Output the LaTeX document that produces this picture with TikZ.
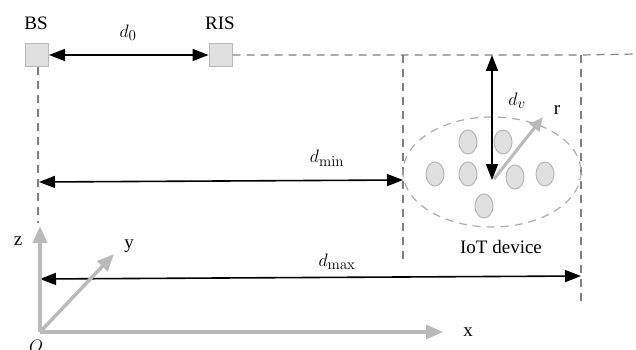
\documentclass[tikz,border=0pt]{standalone}
\usepackage{fix-cm}
\usepackage[no-math]{fontspec}
\setmainfont{Liberation Serif}
\DeclareMathSizes{19}{18}{15}{12}
\usetikzlibrary{arrows.meta,shapes.geometric}
\begin{document}
\begin{tikzpicture}[x=1pt,y=-1pt,
  every node/.style={font=\fontsize{19}{22}\selectfont, inner sep=0pt},
  dev/.style={ellipse, draw=black!28, fill=black!12, line width=1pt, minimum width=18pt, minimum height=24pt},
  ant/.style={rectangle, draw=black!28, fill=black!12, line width=1pt, minimum size=23pt},
  guide/.style={draw=black!50, dashed, dash pattern=on 8pt off 6pt, line width=1.2pt},
  meas/.style={draw=black, line width=1.6pt, {Triangle[length=16pt,width=12pt]}-{Triangle[length=16pt,width=12pt]}},
  axis/.style={draw=black!27, line width=3.5pt, -{Triangle[length=17pt,width=14pt]}}]
\useasboundingbox (0,0) rectangle (636,350);
% antennas
\node[ant] (bs) at (37,55) {};
\node[ant] (ris) at (220.5,55) {};
\node (bsl) at (36,23) {BS};
\node (risl) at (220,23) {RIS};
% guide lines
\coordinate (r1) at (403,55);
\coordinate (r2) at (581,55);
\coordinate (r3) at (636,54);
\coordinate (bsb) at (38,223);
\coordinate (r1b) at (403,260);
\coordinate (r2b) at (581,302);
\draw[guide] (ris.east) -- (r1) -- (r2) -- (r3);
\draw[guide] (bs.south -| bsb) -- (bsb);
\draw[guide] (r1) -- (r1b);
\draw[guide] (r2) -- (r2b);
% d0
\draw[meas] (bs.east) -- (ris.west);
\node (d0) at (128,33) {$d_0$};
% IoT area
\draw[draw=black!32, dashed, dash pattern=on 8pt off 6pt, line width=1.2pt] (492,172) ellipse [x radius=89, y radius=55];
\node[dev] (e1) at (468,142) {};
\node[dev] (e2) at (503,142) {};
\node[dev] (e3) at (435,174) {};
\node[dev] (e4) at (468,174) {};
\node[dev] (e5) at (515,177) {};
\node[dev] (e6) at (545,174) {};
\node[dev] (e7) at (484,206) {};
\node (iot) at (501,247) {IoT device};
% r arrow
\coordinate (rs) at (494,179);
\coordinate (re) at (543,117);
\draw[draw=black!27, line width=3pt, -{Triangle[length=14pt,width=12pt]}] (rs) -- (re);
\node (rl) at (557,110) {r};
% dv
\coordinate (dvt) at (492,55);
\coordinate (dvb) at (492,180);
\draw[meas] (dvt) -- (dvb);
\node (dv) at (517,101) {$d_v$};
% dmin
\coordinate (dmina) at (39,182);
\coordinate (dminb) at (403,180);
\draw[meas] (dmina) -- (dminb);
\node (dmin) at (327,158) {$d_{\min}$};
% dmax
\coordinate (dmaxa) at (40,279);
\coordinate (dmaxb) at (581,276);
\draw[meas] (dmaxa) -- (dmaxb);
\node (dmax) at (337,262) {$d_{\max}$};
% axes
\coordinate (O) at (40,332);
\coordinate (zt) at (40,226);
\coordinate (xt) at (443,332);
\coordinate (yt) at (114,254);
\draw[axis] (O) -- (zt);
\draw[axis] (O) -- (xt);
\draw[axis] (O) -- (yt);
\node (zl) at (18,241) {z};
\node (yl) at (129,246) {y};
\node (xl) at (468,332) {x};
\node (Ol) at (36,346) {$O$};
\end{tikzpicture}
\end{document}
